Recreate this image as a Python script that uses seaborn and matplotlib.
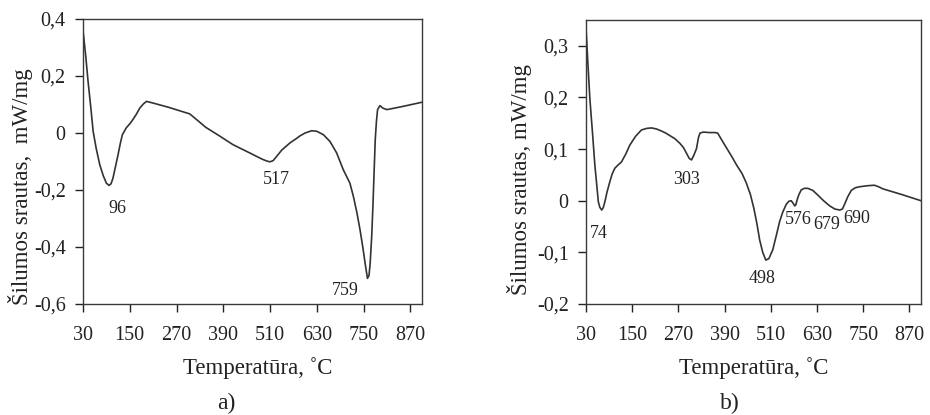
import matplotlib
matplotlib.use("Agg")
import matplotlib.pyplot as plt
import seaborn as sns
import pandas as pd

# ---- data: panel a ----
temp_a = [30, 37, 43, 50, 56, 64, 73, 82, 90, 97, 102, 107, 113, 120, 126, 131, 141, 150, 158,
          167, 176, 185, 193, 210, 250, 304, 325, 345, 380, 415, 458, 490, 503, 510, 518, 527,
          540, 561, 575, 587, 600, 617, 630, 647, 664, 681, 698, 715, 724, 733, 741, 748, 754,
          760, 764, 767, 771, 774, 777, 780, 783, 786, 792, 800, 810, 850, 900]
flow_a = [0.36, 0.27, 0.181, 0.09, 0.006, -0.055, -0.111, -0.150, -0.176, -0.184, -0.178,
          -0.158, -0.12, -0.076, -0.035, -0.006, 0.018, 0.032, 0.047, 0.066, 0.088, 0.102, 0.111,
          0.105, 0.090, 0.067, 0.043, 0.020, -0.010, -0.041, -0.070, -0.092, -0.099, -0.101,
          -0.097, -0.082, -0.060, -0.035, -0.022, -0.010, 0.0, 0.008, 0.006, -0.006, -0.030,
          -0.070, -0.129, -0.176, -0.223, -0.280, -0.340, -0.400, -0.457, -0.510, -0.500, -0.457,
          -0.360, -0.258, -0.14, -0.024, 0.040, 0.082, 0.096, 0.087, 0.082, 0.093, 0.108]
peaks_a = ["96", "517", "759"]
peak_a_x = [118, 527, 702]
peak_a_y = [-0.266, -0.164, -0.551]
yticks_a = [0.4, 0.2, 0.0, -0.2, -0.4, -0.6]
yticklabels_a = ["0,4", "0,2", "0", "-0,2", "-0,4", "-0,6"]

# ---- data: panel b ----
temp_b = [30, 35, 40, 47, 53, 58, 62, 66, 71, 75, 79, 85, 92, 98, 105, 113, 122, 133, 144, 159,
          174, 187, 200, 213, 226, 237, 248, 261, 274, 283, 291, 298, 304, 310, 317, 322, 326,
          335, 350, 365, 372, 383, 396, 409, 422, 435, 446, 457, 466, 474, 481, 489, 497, 505,
          515, 524, 533, 541, 550, 557, 563, 568, 572, 575, 578, 583, 589, 597, 606, 619, 632,
          647, 663, 676, 689, 696, 702, 710, 719, 729, 740, 760, 779, 790, 801, 850, 900]
flow_b = [0.335, 0.265, 0.198, 0.13, 0.069, 0.03, -0.002, -0.013, -0.018, -0.013, -0.002,
          0.018, 0.037, 0.052, 0.063, 0.069, 0.075, 0.090, 0.108, 0.125, 0.137, 0.140, 0.141,
          0.139, 0.135, 0.131, 0.126, 0.12, 0.111, 0.103, 0.092, 0.082, 0.079, 0.088, 0.101,
          0.122, 0.131, 0.133, 0.132, 0.132, 0.131, 0.117, 0.101, 0.085, 0.068, 0.053, 0.035,
          0.012, -0.015, -0.045, -0.076, -0.100, -0.115, -0.112, -0.095, -0.068, -0.040, -0.022,
          -0.007, -0.001, 0.0, -0.005, -0.010, -0.008, 0.001, 0.012, 0.021, 0.024, 0.024, 0.020,
          0.011, 0.0, -0.010, -0.016, -0.018, -0.016, -0.006, 0.008, 0.020, 0.025, 0.027, 0.029,
          0.030, 0.027, 0.023, 0.012, 0.0]
peaks_b = ["74", "303", "498", "576", "679", "690"]
peak_b_x = [62, 292, 487, 581, 654, 734]
peak_b_y = [-0.063, 0.041, -0.150, -0.037, -0.047, -0.035]
yticks_b = [0.3, 0.2, 0.1, 0.0, -0.1, -0.2]
yticklabels_b = ["0,3", "0,2", "0,1", "0", "-0,1", "-0,2"]

xticks = [30, 150, 270, 390, 510, 630, 750, 870]
xlabel = "Temperatūra, \u02daC"
panel_labels = ["a)", "b)"]

sns.set_theme(style="white")
plt.rcParams["font.family"] = ["Liberation Serif", "DejaVu Serif"]

fig = plt.figure(figsize=(9.3, 4.15), dpi=100)
ax_a = fig.add_axes([83 / 930, 1 - 304 / 415, 339 / 930, 285 / 415])
ax_b = fig.add_axes([586 / 930, 1 - 304 / 415, 335 / 930, 284 / 415])

line_color = "#333333"
text_color = "#222222"

def style(ax, yticks, yticklabels, ylim, ylabel, ylab_xy, xlab_xy):
    ax.set_xlim(30, 900)
    ax.set_ylim(*ylim)
    ax.set_xticks(xticks)
    ax.set_xticklabels([str(t) for t in xticks], fontsize=14.5, color=text_color)
    ax.set_yticks(yticks)
    ax.set_yticklabels(yticklabels, fontsize=14.5, color=text_color)
    ax.tick_params(axis="x", direction="out", length=5.5, width=1, color="#222222",
                   bottom=True, top=False, pad=10)
    ax.tick_params(axis="y", direction="out", length=5.5, width=1, color="#222222",
                   left=True, right=False, pad=7)
    for s in ax.spines.values():
        s.set_color("#3a3a3a")
        s.set_linewidth(1.0)
    ax.set_xlabel(xlabel, fontsize=16.5, color=text_color)
    ax.set_ylabel(ylabel, fontsize=16.5, color=text_color)
    ax.yaxis.set_label_coords(*ylab_xy)
    ax.xaxis.set_label_coords(*xlab_xy)

df_a = pd.DataFrame({"T": temp_a, "Q": flow_a})
sns.lineplot(data=df_a, x="T", y="Q", ax=ax_a, color=line_color, linewidth=1.2, estimator=None)
style(ax_a, yticks_a, yticklabels_a, (-0.6, 0.4), "Šilumos srautas,  mW/mg",
      (-0.147, 0.41), (0.515, -0.186))
for t, x, y in zip(peaks_a, peak_a_x, peak_a_y):
    ax_a.text(x, y, t, fontsize=13, ha="center", va="center", color=text_color)

df_b = pd.DataFrame({"T": temp_b, "Q": flow_b})
sns.lineplot(data=df_b, x="T", y="Q", ax=ax_b, color=line_color, linewidth=1.2, estimator=None)
style(ax_b, yticks_b, yticklabels_b, (-0.2, 0.35), "Šilumos srautas, mW/mg",
      (-0.161, 0.437), (0.5, -0.186))
for t, x, y in zip(peaks_b, peak_b_x, peak_b_y):
    ax_b.text(x, y, t, fontsize=13, ha="center", va="center", color=text_color)

fig.text(226 / 930, 1 - 403 / 415, panel_labels[0], fontsize=17, ha="center", va="center",
         color=text_color)
fig.text(730 / 930, 1 - 403 / 415, panel_labels[1], fontsize=17, ha="center", va="center",
         color=text_color)

fig.savefig("out.png", dpi=100)
